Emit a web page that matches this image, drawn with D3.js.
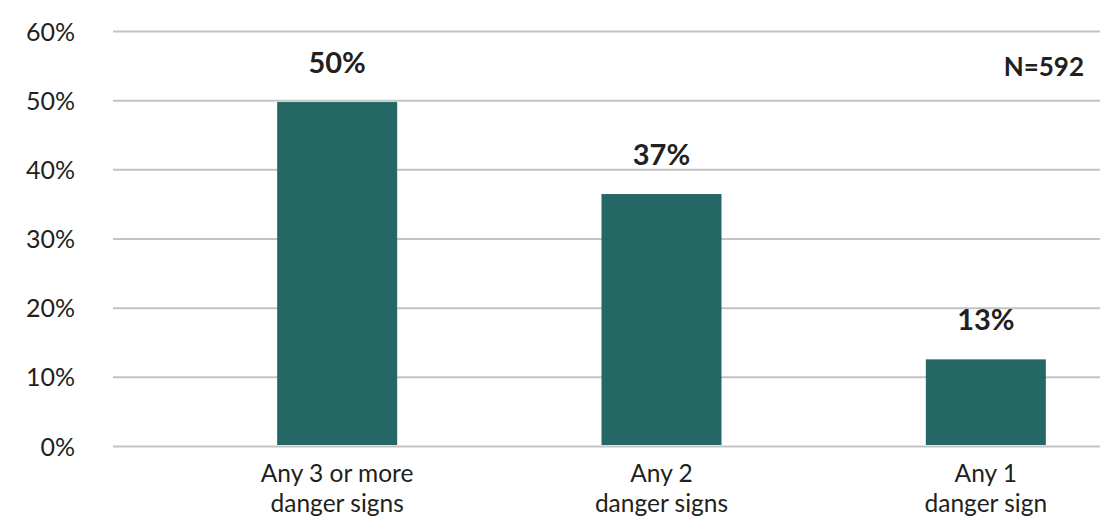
<!DOCTYPE html>
<html>
<head>
<meta charset="utf-8">
<script src="https://d3js.org/d3.v7.min.js"></script>
<style>
  body { margin: 0; background: #fff; }
  text { font-family: Lato, "Open Sans", sans-serif; fill: #231f20; }
</style>
</head>
<body>
<svg id="chart" width="1100" height="520"></svg>
<script>
// data
const categories = [["Any 3 or more", "danger signs"], ["Any 2", "danger signs"], ["Any 1", "danger sign"]];
const values = [49.8, 36.5, 12.6];
const valueLabels = ["50%", "37%", "13%"];
const yTicks = [0, 10, 20, 30, 40, 50, 60];
const note = "N=592";

const svg = d3.select("#chart");
const gridLeft = 113, gridRight = 1100;

const x = d3.scaleBand()
  .domain(d3.range(categories.length))
  .range([175, 1148])
  .paddingInner(0.63)
  .paddingOuter(0.315);

const y = d3.scaleLinear().domain([0, 60]).range([446.5, 31.5]);

// gridlines
svg.append("g").selectAll("line")
  .data(yTicks)
  .join("line")
  .attr("x1", gridLeft).attr("x2", gridRight)
  .attr("y1", d => y(d)).attr("y2", d => y(d))
  .attr("stroke", "#c3c3c3")
  .attr("stroke-width", 2);

// y tick labels
svg.append("g").selectAll("text")
  .data(yTicks)
  .join("text")
  .attr("x", 75)
  .attr("y", d => y(d))
  .attr("dy", "0.36em")
  .attr("text-anchor", "end")
  .attr("font-size", 25)
  .text(d => d + "%");

// bars
svg.append("g").selectAll("rect")
  .data(values)
  .join("rect")
  .attr("x", (d, i) => x(i))
  .attr("width", x.bandwidth())
  .attr("y", d => y(d))
  .attr("height", d => y(0) - 1.5 - y(d))
  .attr("fill", "#246764");

// value labels
svg.append("g").selectAll("text")
  .data(values)
  .join("text")
  .attr("x", (d, i) => x(i) + x.bandwidth() / 2)
  .attr("y", d => y(d) - 29)
  .attr("text-anchor", "middle")
  .attr("font-size", 29)
  .attr("font-weight", "bold")
  .text((d, i) => valueLabels[i]);

// category labels, two lines each
const cat = svg.append("g").selectAll("text")
  .data(categories)
  .join("text")
  .attr("x", (d, i) => x(i) + x.bandwidth() / 2)
  .attr("y", 482)
  .attr("text-anchor", "middle")
  .attr("font-size", 24.5);
cat.selectAll("tspan")
  .data(d => d)
  .join("tspan")
  .attr("x", function() { return d3.select(this.parentNode).attr("x"); })
  .attr("dy", (d, i) => i === 0 ? 0 : 29.5)
  .text(d => d);

// sample size note
svg.append("text")
  .attr("x", 1084)
  .attr("y", 76)
  .attr("text-anchor", "end")
  .attr("font-size", 26)
  .attr("font-weight", "bold")
  .text(note);
</script>
</body>
</html>
